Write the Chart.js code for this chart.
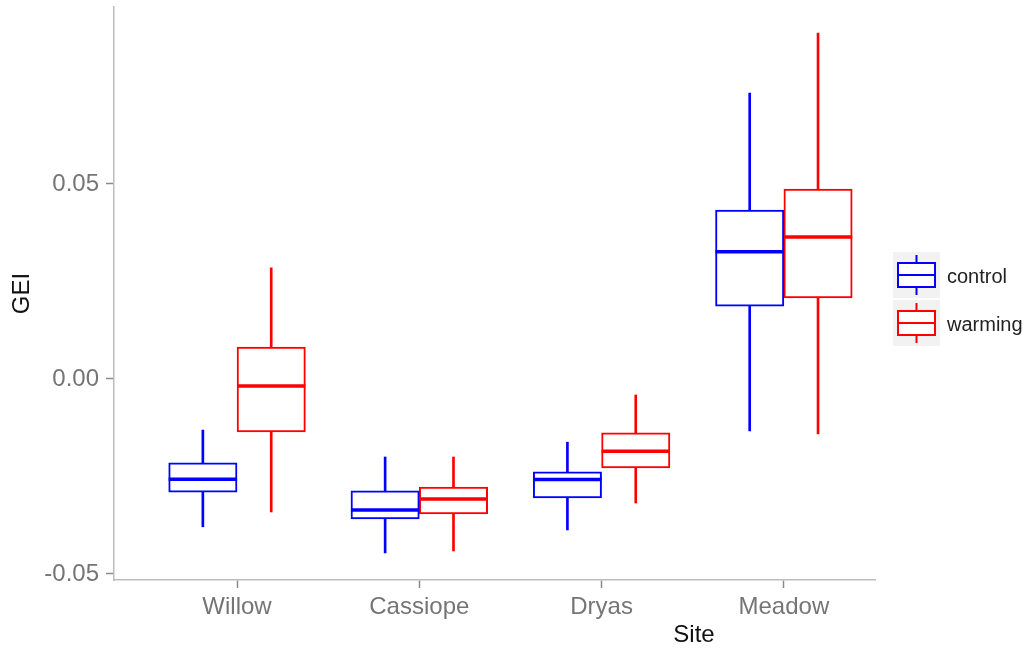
<!DOCTYPE html>
<html>
<head>
<meta charset="utf-8">
<title>GEI by site</title>
<script src="https://cdn.jsdelivr.net/npm/chart.js@4.4.1/dist/chart.umd.min.js"></script>
<style>
  html, body { margin: 0; padding: 0; background: #ffffff; }
  #wrap { width: 1026px; height: 648px; }
</style>
</head>
<body>
<div id="wrap"><canvas id="geiChart" width="1026" height="648"></canvas></div>
<script>
// Sites on the x axis
const sites = ['Willow', 'Cassiope', 'Dryas', 'Meadow'];

// Box statistics per site (whisker ends, quartiles, median)
const controlLow  = [-0.0379, -0.0446, -0.0387, -0.0133];
const controlQ1   = [-0.0290, -0.0359, -0.0305,  0.0187];
const controlMed  = [-0.0257, -0.0336, -0.0258,  0.0326];
const controlQ3   = [-0.0215, -0.0287, -0.0238,  0.0433];
const controlHigh = [-0.0131, -0.0200, -0.0162,  0.0733];

const warmingLow  = [-0.0341, -0.0441, -0.0318, -0.0141];
const warmingQ1   = [-0.0136, -0.0346, -0.0228,  0.0208];
const warmingMed  = [-0.0018, -0.0308, -0.0185,  0.0364];
const warmingQ3   = [ 0.0082, -0.0277, -0.0138,  0.0487];
const warmingHigh = [ 0.0285, -0.0200, -0.0041,  0.0887];

// Y axis ticks
const yTickValues = [-0.05, 0, 0.05];
const yTickLabels = ['-0.05', '0.00', '0.05'];

const groups = ['control', 'warming'];
const colors = { control: '#0000ff', warming: '#ff0000' };

const FONT = '"Liberation Sans", Arial, Helvetica, sans-serif';
const DODGE = 0.1875; // half of the box width, in category units

/**
 * Build whisker / box / median datasets for one group
 */
function groupDatasets(name, shift, low, q1, med, q3, high) {
  const color = colors[name];
  const xs = sites.map((_, i) => i + 1 + shift);
  return [
    {
      type: 'bar',
      label: name + ' whisker',
      data: xs.map((x, i) => ({ x: x, y: [low[i], high[i]] })),
      backgroundColor: color,
      borderWidth: 0,
      barThickness: 2,
      grouped: false,
      order: 3
    },
    {
      type: 'bar',
      label: name,
      data: xs.map((x, i) => ({ x: x, y: [q1[i], q3[i]] })),
      backgroundColor: '#ffffff',
      borderColor: color,
      borderWidth: 2,
      borderSkipped: false,
      grouped: false,
      barPercentage: 1,
      categoryPercentage: 1,
      order: 2
    },
    {
      type: 'scatter',
      label: name + ' median',
      data: xs.map((x, i) => ({ x: x, y: med[i] })),
      pointStyle: 'line',
      pointRadius: 34.2,
      borderColor: color,
      pointBorderWidth: 3.5,
      showLine: false,
      order: 1
    }
  ];
}

// Legend keys and the x title are drawn by hand
const decorPlugin = {
  id: 'decor',
  afterDraw(chart) {
    const ctx = chart.ctx;
    ctx.save();

    groups.forEach((name, k) => {
      const y0 = 252 + k * 48;
      const color = colors[name];
      ctx.fillStyle = '#f2f2f2';
      ctx.fillRect(893, y0, 47, 46);

      ctx.strokeStyle = color;
      ctx.lineWidth = 2;
      ctx.beginPath();
      ctx.moveTo(916.5, y0 + 3);
      ctx.lineTo(916.5, y0 + 43);
      ctx.stroke();

      ctx.fillStyle = '#ffffff';
      ctx.fillRect(898, y0 + 11, 37, 24);
      ctx.strokeRect(898, y0 + 11, 37, 24);
      ctx.beginPath();
      ctx.moveTo(898, y0 + 23);
      ctx.lineTo(935, y0 + 23);
      ctx.stroke();

      ctx.fillStyle = '#222222';
      ctx.font = '20px ' + FONT;
      ctx.textAlign = 'left';
      ctx.textBaseline = 'middle';
      ctx.fillText(name, 947, y0 + 25);
    });

    ctx.fillStyle = '#111111';
    ctx.font = '24px ' + FONT;
    ctx.textAlign = 'center';
    ctx.textBaseline = 'middle';
    ctx.fillText('Site', 694, 635);

    ctx.restore();
  }
};

document.addEventListener('DOMContentLoaded', function() {
  Chart.defaults.font.family = FONT;

  const datasets = [].concat(
    groupDatasets('control', -DODGE, controlLow, controlQ1, controlMed, controlQ3, controlHigh),
    groupDatasets('warming', DODGE, warmingLow, warmingQ1, warmingMed, warmingQ3, warmingHigh)
  );

  new Chart(document.getElementById('geiChart'), {
    type: 'bar',
    data: { datasets: datasets },
    options: {
      responsive: false,
      animation: false,
      events: [],
      layout: {
        autoPadding: false,
        padding: { left: 0, right: 151, top: 7, bottom: 0 }
      },
      plugins: {
        legend: { display: false },
        tooltip: { enabled: false }
      },
      scales: {
        x: {
          type: 'linear',
          offset: false,
          min: 0.325,
          max: 4.5,
          afterBuildTicks: (scale) => {
            scale.ticks = sites.map((_, i) => ({ value: i + 1 }));
          },
          afterFit: (scale) => {
            scale.height = 68;
            scale.paddingLeft = 0;
            scale.paddingRight = 0;
          },
          ticks: {
            callback: (value, index) => sites[index],
            color: '#757575',
            font: { size: 24 },
            padding: 5,
            maxRotation: 0,
            autoSkip: false
          },
          grid: {
            offset: false,
            drawOnChartArea: false,
            drawTicks: true,
            tickLength: 8,
            tickWidth: 1.5,
            color: '#8a8a8a'
          },
          border: { display: true, color: '#bdbdbd', width: 1.5 }
        },
        y: {
          type: 'linear',
          min: -0.05154,
          max: 0.09538,
          afterBuildTicks: (scale) => {
            scale.ticks = yTickValues.map(v => ({ value: v }));
          },
          afterFit: (scale) => {
            scale.width = 114;
            scale.paddingTop = 0;
            scale.paddingBottom = 0;
          },
          ticks: {
            callback: (value, index) => yTickLabels[index],
            color: '#757575',
            font: { size: 24 },
            padding: 7
          },
          grid: {
            drawOnChartArea: false,
            drawTicks: true,
            tickLength: 8,
            tickWidth: 1.5,
            color: '#8a8a8a'
          },
          border: { display: true, color: '#bdbdbd', width: 1.5 },
          title: {
            display: true,
            text: 'GEI',
            color: '#111111',
            font: { size: 24 },
            padding: { top: 8, bottom: 0 }
          }
        }
      }
    },
    plugins: [decorPlugin]
  });
});
</script>
</body>
</html>
